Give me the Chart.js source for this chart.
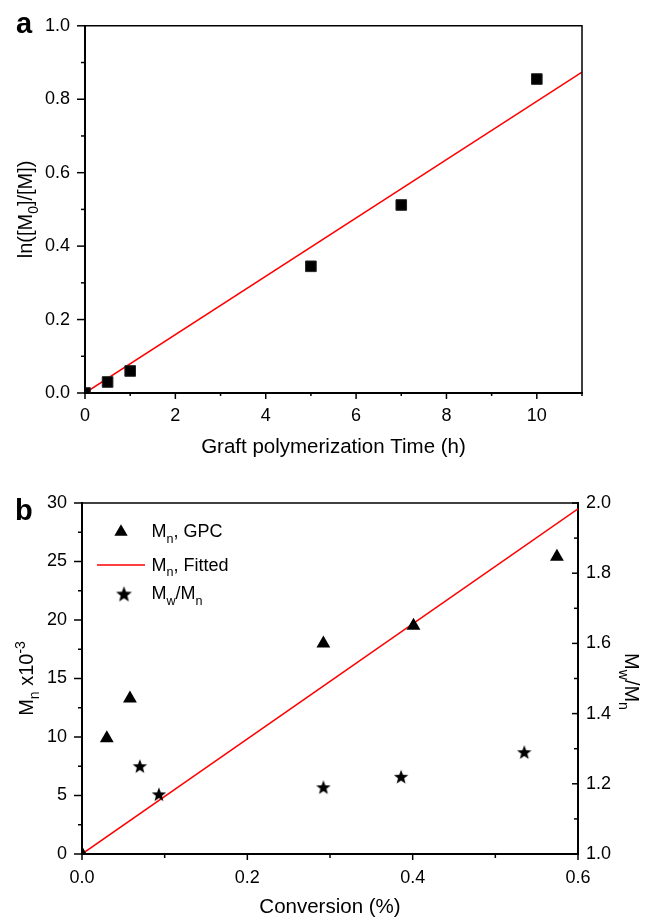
<!DOCTYPE html>
<html>
<head>
<meta charset="utf-8">
<script src="https://cdn.jsdelivr.net/npm/chart.js@4.4.0/dist/chart.umd.min.js"></script>
<style>
  body { margin: 0; background: #fff; }
  #wrapA { position: absolute; left: 0; top: 0; width: 645px; height: 460px; }
  #wrapB { position: absolute; left: 0; top: 460px; width: 645px; height: 457px; }
</style>
</head>
<body>
<div id="wrapA"><canvas id="chartA" width="645" height="460"></canvas></div>
<div id="wrapB"><canvas id="chartB" width="645" height="457"></canvas></div>
<script>
// panel a: kinetics of graft polymerization
const timeH = [0, 0.5, 1, 5, 7, 10];
const lnRatio = [0, 0.03, 0.06, 0.345, 0.512, 0.855];
const timeFit = [0, 11];
const lnFit = [0, 0.874];

// panel b: Mn and Mw/Mn vs conversion
const convGpc = [0, 0.030, 0.058, 0.292, 0.401, 0.5745];
const mnGpc = [0, 9.9, 13.3, 18.0, 19.5, 25.4];
const convFit = [0, 0.6];
const mnFit = [0, 29.5];
const convPdi = [0.070, 0.093, 0.292, 0.386, 0.535];
const pdi = [1.25, 1.17, 1.19, 1.22, 1.29];

// axis ranges and tick steps (minor ticks in between the labelled ones)
const timeAxis = [0, 11, 1];
const lnAxis = [0, 1, 0.1];
const convAxis = [0, 0.6, 0.1];
const mnAxis = [0, 30, 2.5];
const pdiAxis = [1, 2, 0.1];

const FONT = '"Liberation Sans", Arial, Helvetica, sans-serif';
const TICK_FONT = { family: FONT, size: 18 };

function pts(xs, ys) {
  return xs.map((x, i) => ({ x: x, y: ys[i] }));
}

// text with sub/superscripts, parts = [[text, 'sub'|'sup'|''], ...]
function richText(ctx, parts, x, y, size, align) {
  let w = 0;
  parts.forEach(p => {
    ctx.font = (p[1] ? size * 0.7 : size) + 'px ' + FONT;
    w += ctx.measureText(p[0]).width;
  });
  let cx = align === 'center' ? x - w / 2 : x;
  ctx.textAlign = 'left';
  ctx.textBaseline = 'alphabetic';
  ctx.fillStyle = '#000';
  parts.forEach(p => {
    const s = p[1] ? size * 0.7 : size;
    ctx.font = s + 'px ' + FONT;
    let dy = 0;
    if (p[1] === 'sub') dy = size * 0.3;
    if (p[1] === 'sup') dy = -size * 0.42;
    ctx.fillText(p[0], cx, y + dy);
    cx += ctx.measureText(p[0]).width;
  });
}

function rotatedText(ctx, parts, x, y, size, angle) {
  ctx.save();
  ctx.translate(x, y);
  ctx.rotate(angle);
  richText(ctx, parts, 0, 0, size, 'center');
  ctx.restore();
}

// major ticks on even index, short minor ticks between
function tickMarks(chart, id, side, majLen, minLen) {
  const sc = chart.scales[id];
  const ctx = chart.ctx;
  ctx.save();
  ctx.strokeStyle = '#000';
  ctx.lineWidth = 1.5;
  sc.ticks.forEach((t, i) => {
    const len = i % 2 === 0 ? majLen : minLen;
    const p = sc.getPixelForValue(t.value);
    ctx.beginPath();
    if (side === 'left') { ctx.moveTo(sc.right, p); ctx.lineTo(sc.right - len, p); }
    if (side === 'bottom') { ctx.moveTo(p, sc.top); ctx.lineTo(p, sc.top + len); }
    if (side === 'right') { ctx.moveTo(sc.left, p); ctx.lineTo(sc.left - len, p); }
    ctx.stroke();
  });
  ctx.restore();
}

function frame(chart, withRight) {
  const a = chart.chartArea;
  const ctx = chart.ctx;
  ctx.save();
  ctx.strokeStyle = '#000';
  ctx.lineWidth = 1.5;
  ctx.beginPath();
  ctx.moveTo(a.left, a.top);
  ctx.lineTo(a.right, a.top);
  if (withRight) ctx.lineTo(a.right, a.bottom);
  ctx.stroke();
  ctx.restore();
}

function starImage(r) {
  const s = Math.ceil(r * 2) + 2;
  const c = document.createElement('canvas');
  c.width = s; c.height = s;
  const g = c.getContext('2d');
  g.fillStyle = '#000';
  g.beginPath();
  for (let k = 0; k < 10; k++) {
    const rad = k % 2 === 0 ? r : r * 0.42;
    const ang = -Math.PI / 2 + k * Math.PI / 5;
    const px = s / 2 + rad * Math.cos(ang), py = s / 2 + rad * Math.sin(ang) + r * 0.08;
    if (k === 0) g.moveTo(px, py); else g.lineTo(px, py);
  }
  g.closePath();
  g.fill();
  return c;
}
const starPoint = starImage(7.6);
const starLegend = starImage(8.3);

function linAxis(pos, range, fmt, pad, fit) {
  return {
    type: 'linear', position: pos,
    min: range[0], max: range[1],
    afterFit: fit,
    grid: { display: false, drawTicks: false },
    border: { display: true, color: '#000', width: 2 },
    ticks: {
      stepSize: range[2], autoSkip: false, maxRotation: 0, padding: pad,
      color: '#000', font: TICK_FONT,
      callback: (v, i) => i % 2 === 0 ? fmt(v) : ''
    }
  };
}

// ---------- panel a ----------
const decoA = {
  id: 'decoA',
  afterDraw(chart) {
    const ctx = chart.ctx;
    const a = chart.chartArea;
    frame(chart, true);
    tickMarks(chart, 'y', 'left', 8, 4);
    tickMarks(chart, 'x', 'bottom', 6, 3);
    richText(ctx, [['Graft polymerization Time (h)', '']], (a.left + a.right) / 2, 453, 20.5, 'center');
    rotatedText(ctx, [['ln([M', ''], ['0', 'sub'], [']/[M])', '']], 31.5, (a.top + a.bottom) / 2, 20, -Math.PI / 2);
    ctx.save();
    ctx.font = 'bold 29px ' + FONT;
    ctx.fillStyle = '#000';
    ctx.textAlign = 'left';
    ctx.textBaseline = 'alphabetic';
    ctx.fillText('a', 16, 33);
    ctx.restore();
  }
};

new Chart(document.getElementById('chartA'), {
  type: 'scatter',
  data: {
    datasets: [
      {
        data: pts(timeH, lnRatio),
        pointStyle: 'rect', pointRadius: 7.5,
        backgroundColor: '#000', borderColor: '#222', borderWidth: 1,
        clip: 0
      },
      {
        data: pts(timeFit, lnFit),
        showLine: true, pointRadius: 0,
        borderColor: '#ff0000', borderWidth: 1.5,
        clip: 0
      }
    ]
  },
  options: {
    responsive: false,
    animation: false,
    layout: { padding: { left: 0, right: 63, top: 22, bottom: 0 } },
    plugins: { legend: { display: false }, tooltip: { enabled: false } },
    scales: {
      x: linAxis('bottom', timeAxis, v => String(v), 12, s => { s.height = 67; }),
      y: linAxis('left', lnAxis, v => v.toFixed(1), 15, s => { s.width = 85; })
    }
  },
  plugins: [decoA]
});

// ---------- panel b ----------
const decoB = {
  id: 'decoB',
  afterDraw(chart) {
    const ctx = chart.ctx;
    const a = chart.chartArea;
    frame(chart, false);
    tickMarks(chart, 'y', 'left', 8, 4);
    tickMarks(chart, 'y2', 'right', 6, 4);
    tickMarks(chart, 'x', 'bottom', 6, 4);
    richText(ctx, [['Conversion (%)', '']], (a.left + a.right) / 2, 452.7, 20.5, 'center');
    rotatedText(ctx, [['M', ''], ['n', 'sub'], [' x10', ''], ['-3', 'sup']], 33, (a.top + a.bottom) / 2, 20, -Math.PI / 2);
    rotatedText(ctx, [['M', ''], ['w', 'sub'], ['/M', ''], ['n', 'sub']], 625, (a.top + a.bottom) / 2 + 3, 20, Math.PI / 2);

    // legend
    ctx.save();
    ctx.fillStyle = '#000';
    ctx.strokeStyle = '#000';
    Chart.helpers.drawPoint(ctx, { pointStyle: 'triangle', radius: 7.7, rotation: 0, borderWidth: 0 }, 121, 72);
    ctx.strokeStyle = '#ff0000';
    ctx.lineWidth = 1.5;
    ctx.beginPath();
    ctx.moveTo(97, 105);
    ctx.lineTo(145, 105);
    ctx.stroke();
    ctx.drawImage(starLegend, 124 - starLegend.width / 2, 134 - starLegend.height / 2);
    ctx.restore();
    richText(ctx, [['M', ''], ['n', 'sub'], [', GPC', '']], 151.5, 77.3, 18, 'left');
    richText(ctx, [['M', ''], ['n', 'sub'], [', Fitted', '']], 151.5, 110.7, 18, 'left');
    richText(ctx, [['M', ''], ['w', 'sub'], ['/M', ''], ['n', 'sub']], 151.5, 139.3, 18, 'left');

    ctx.save();
    ctx.font = 'bold 29px ' + FONT;
    ctx.fillStyle = '#000';
    ctx.textAlign = 'left';
    ctx.textBaseline = 'alphabetic';
    ctx.fillText('b', 15, 60);
    ctx.restore();
  }
};

new Chart(document.getElementById('chartB'), {
  type: 'scatter',
  data: {
    datasets: [
      {
        data: pts(convGpc, mnGpc), yAxisID: 'y',
        pointStyle: 'triangle', pointRadius: 8,
        backgroundColor: '#000', borderColor: '#000', borderWidth: 0,
        clip: 0
      },
      {
        data: pts(convPdi, pdi), yAxisID: 'y2',
        pointStyle: starPoint, pointRadius: 7,
        backgroundColor: '#000', borderColor: '#000',
        clip: 0
      },
      {
        data: pts(convFit, mnFit), yAxisID: 'y',
        showLine: true, pointRadius: 0,
        borderColor: '#ff0000', borderWidth: 1.5,
        clip: 0
      }
    ]
  },
  options: {
    responsive: false,
    animation: false,
    layout: { padding: { left: 0, right: 0, top: 43, bottom: 0 } },
    plugins: { legend: { display: false }, tooltip: { enabled: false } },
    scales: {
      x: linAxis('bottom', convAxis, v => v.toFixed(1), 13, s => { s.height = 63; }),
      y: linAxis('left', mnAxis, v => String(v), 15, s => { s.width = 82; }),
      y2: linAxis('right', pdiAxis, v => v.toFixed(1), 8, s => { s.width = 67; })
    }
  },
  plugins: [decoB]
});
</script>
</body>
</html>
